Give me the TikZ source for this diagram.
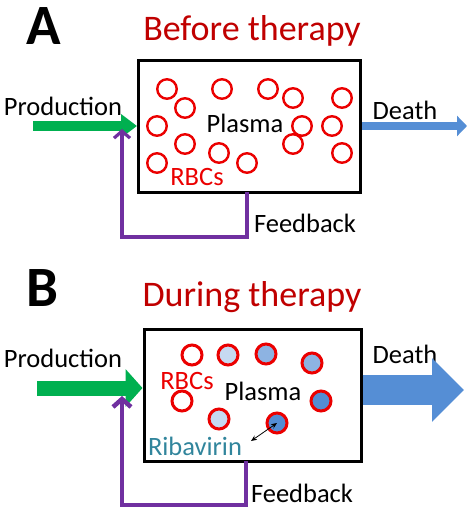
\documentclass[tikz,border=0pt]{standalone}
\usepackage{fontspec}
\setmainfont{Carlito}
\usetikzlibrary{arrows.meta}
\definecolor{titlered}{RGB}{192,0,0}
\definecolor{cellred}{RGB}{235,0,0}
\definecolor{prodgreen}{RGB}{0,176,80}
\definecolor{deathblue}{RGB}{85,142,213}
\definecolor{fbpurple}{RGB}{112,48,160}
\definecolor{ribateal}{RGB}{49,133,156}
\definecolor{bluelight}{RGB}{198,217,241}
\definecolor{bluemid}{RGB}{141,179,226}
\definecolor{bluedark}{RGB}{84,141,212}
\begin{document}
\begin{tikzpicture}[x=1pt,y=-1pt,
  lbl/.style={inner sep=0pt, font=\fontsize{26.5}{26.5}\selectfont},
  ttl/.style={inner sep=0pt, text=titlered, font=\fontsize{36}{36}\selectfont},
  panel/.style={inner sep=0pt, font=\fontsize{57}{57}\selectfont\bfseries},
  plasmabox/.style={draw=black, line width=3pt, inner sep=0pt},
  cellA/.style={circle, draw=cellred, line width=2.4pt, minimum size=19.5pt, inner sep=0pt},
  cellB/.style={circle, draw=cellred, line width=3pt, minimum size=20pt, inner sep=0pt},
  fb/.style={draw=fbpurple, line join=miter}
]
\path[use as bounding box] (0,0) rectangle (472,513);

% ---------------- Panel A ----------------
\node[panel] (labA) at (44,26) {A};
\node[ttl] (ttlA) at (252,31) {Before therapy};
\node[plasmabox, minimum width=222pt, minimum height=131pt] (boxA) at (249.5,126.5) {};
\foreach \n/\x/\y in {a1/167/89, a2/185/108, a3/222/89, a4/268/89, a5/293/98, a6/342/98,
  a7/157/126, a8/302/126, a9/332/126, a10/185/144, a11/219/153, a12/293/144,
  a13/342/153, a14/157/163, a15/247/163}
  \node[cellA] (\n) at (\x,\y) {};
\node[lbl] (plA) at (245,123) {Plasma};
\node[lbl, text=cellred] (rbcA) at (197,177) {RBCs};
\node[lbl] (prodA) at (63,106) {Production};
\node[lbl] (deathA) at (405,110) {Death};
\node[lbl] (fbA) at (305,223) {Feedback};

\coordinate (gA) at (33,126);
\draw[prodgreen, line width=10pt, -{Triangle[length=16pt,width=23pt]}] (gA) -- (boxA.west |- gA);
\coordinate (dA) at (467,126);
\draw[deathblue, line width=8pt, -{Triangle[length=10pt,width=20pt]}] (boxA.east |- dA) -- (dA);
\coordinate (fA1) at (247,192);
\coordinate (fA2) at (122,237);
\coordinate (fA3) at (122,129);
\draw[fb, line width=3.2pt, -{Straight Barb[length=7pt,width=16pt]}] (fA1) |- (fA2) -- (fA3);

% ---------------- Panel B ----------------
\node[panel] (labB) at (42,288) {B};
\node[ttl] (ttlB) at (252,297) {During therapy};
\node[plasmabox, minimum width=217pt, minimum height=132pt] (boxB) at (252.5,395) {};
\node[cellB] (b1) at (192,355) {};
\node[cellB, fill=bluelight] (b2) at (228,355) {};
\node[cellB, fill=bluemid] (b3) at (266,354) {};
\node[cellB, fill=bluemid] (b4) at (312,363) {};
\node[cellB, fill=bluedark] (b5) at (321,401) {};
\node[cellB] (b6) at (182,401) {};
\node[cellB, fill=bluelight] (b7) at (219,419) {};
\node[cellB, fill=bluedark] (b8) at (277,423) {};
\node[lbl, text=cellred] (rbcB) at (187,381) {RBCs};
\node[lbl] (plB) at (263,391) {Plasma};
\node[lbl, text=ribateal] (ribB) at (195,446) {Ribavirin};
\node[lbl] (prodB) at (63,358) {Production};
\node[lbl] (deathB) at (405,354) {Death};
\node[lbl] (fbB) at (302,493) {Feedback};

\coordinate (rA) at (251,441);
\draw[black, line width=0.8pt, {Stealth[length=6pt,width=5pt]}-{Stealth[length=6pt,width=5pt]}] (rA) -- (b8.center);

\coordinate (gB) at (37,388);
\draw[prodgreen, line width=15pt, -{Triangle[length=17pt,width=37pt]}] (gB) -- (boxB.west |- gB);
\coordinate (dB) at (464,390);
\draw[deathblue, line width=30pt, -{Triangle[length=32pt,width=62pt]}] (boxB.east |- dB) -- (dB);
\coordinate (fB1) at (246,461);
\coordinate (fB2) at (122,505);
\coordinate (fB3) at (122,396);
\draw[fb, line width=4.5pt, -{Straight Barb[length=8pt,width=18pt]}] (fB1) |- (fB2) -- (fB3);
\end{tikzpicture}
\end{document}
